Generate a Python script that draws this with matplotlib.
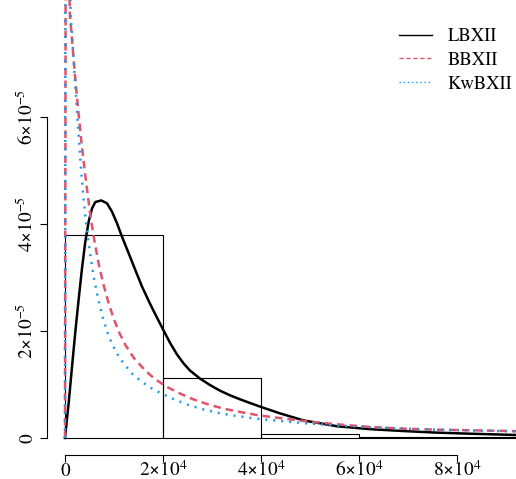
import numpy as np
import matplotlib
matplotlib.use("Agg")
import matplotlib.pyplot as plt
from matplotlib.lines import Line2D

plt.rcParams['font.family'] = ['TeX Gyre Termes', 'FreeSerif', 'DejaVu Serif']
plt.rcParams['mathtext.fontset'] = 'custom'
plt.rcParams['mathtext.rm'] = 'TeX Gyre Termes'
plt.rcParams['mathtext.it'] = 'TeX Gyre Termes:italic'
plt.rcParams['font.size'] = 14

# histogram (density scale)
bin_edges = [0, 20000, 40000, 60000, 80000, 100000]
bin_density = [3.79e-5, 1.12e-5, 6.9e-7, 2.4e-7, 1.0e-7]

# fitted densities, values (y in units of 1e-5)
lb_x = [0, 755, 1429, 2102, 2796, 3469, 4143, 4837, 5510, 6184, 7408,
        8571, 9592, 10612, 11633, 13000, 14347, 15714, 17347, 18714, 20061,
        21429, 22796, 24143, 25510, 27551, 29592, 31633, 33673, 35714,
        37755, 40000, 43878, 48633, 55449, 62245, 69041, 75857, 82653, 92040]
lb_y = [0, 0.66, 1.33, 1.98, 2.60, 3.17, 3.67, 4.05, 4.29, 4.41, 4.44,
        4.386, 4.23, 4.013, 3.762, 3.45, 3.14, 2.83, 2.51, 2.26, 2.02,
        1.78, 1.57, 1.40, 1.26, 1.11, 0.99, 0.884, 0.798, 0.723,
        0.654, 0.58, 0.46, 0.33, 0.22, 0.165, 0.13, 0.10, 0.08, 0.056]

bb_x = [0, 120, 300, 980, 1327, 1673, 2020, 2388, 2776, 3184, 3633, 4102,
        4612, 5224, 5980, 6878, 7898, 8900, 9900, 10959, 12306, 14020,
        16388, 18367, 21082, 23816, 26531, 29592, 32653, 35714, 39122,
        42510, 48633, 55449, 62245, 69041, 75857, 82653, 92040]
bb_y = [0, 8.0, 12.0, 7.925, 7.551, 7.177, 6.803, 6.429, 6.056, 5.682,
        5.308, 4.934, 4.560, 4.130, 3.701, 3.25, 2.85, 2.52, 2.24, 1.99,
        1.74, 1.50, 1.26, 1.10, 0.94, 0.817, 0.710, 0.617, 0.542, 0.486,
        0.430, 0.387, 0.318, 0.256, 0.206, 0.174, 0.155, 0.144, 0.128]

kw_x = [0, 80, 250, 1163, 1449, 1714, 1980, 2245, 2510, 2796, 3082, 3388,
        3735, 4143, 4633, 5184, 5837, 6633, 7612, 8878, 10408, 12041, 13673,
        15714, 18020, 19735, 22102, 25163, 28224, 31286, 34347, 37755,
        40816, 43878, 48633, 55449, 62245, 69041, 75857, 82653, 92040]
kw_y = [0, 8.5, 13.0, 7.887, 7.513, 7.139, 6.766, 6.392, 6.018, 5.644,
        5.271, 4.897, 4.523, 4.149, 3.775, 3.402, 3.028, 2.654, 2.280,
        1.906, 1.607, 1.383, 1.205, 1.048, 0.906, 0.831, 0.729, 0.617,
        0.534, 0.469, 0.421, 0.376, 0.344, 0.318, 0.279, 0.234, 0.202,
        0.176, 0.155, 0.140, 0.123]

series_names = ['LBXII', 'BBXII', 'KwBXII']
x_ticks = [0, 20000, 40000, 60000, 80000]
x_labels = ['0', r'$2{\times}10^{4}$', r'$4{\times}10^{4}$',
            r'$6{\times}10^{4}$', r'$8{\times}10^{4}$']
y_ticks = [0, 2e-5, 4e-5, 6e-5]
y_labels = ['0', r'$2{\times}10^{-5}$', r'$4{\times}10^{-5}$',
            r'$6{\times}10^{-5}$']

red = '#DF536B'
blue = '#2297E6'
unit = 1e-5

fig = plt.figure(figsize=(5.16, 4.79), dpi=100)
ax = fig.add_axes([46.7 / 516, 1 - 455 / 479, (516 - 46.7) / 516, 455 / 479])

widths = np.diff(bin_edges)
ax.bar(bin_edges[:-1], bin_density, width=widths, align='edge',
       fill=False, edgecolor='black', linewidth=0.8)

ax.plot(lb_x, np.array(lb_y) * unit, color='black', lw=1.8)
ax.plot(bb_x, np.array(bb_y) * unit, color=red, lw=1.8, dashes=(3, 2))
ax.plot(kw_x, np.array(kw_y) * unit, color=blue, lw=1.8, dashes=(0.8, 2.4))

ax.set_xlim(-3735, 92040)
ax.set_ylim(-3.18e-6, 8.186e-5)

for s in ['top', 'right']:
    ax.spines[s].set_visible(False)
ax.spines['left'].set_bounds(0, 6e-5)
ax.spines['bottom'].set_bounds(0, 80000)
for s in ['left', 'bottom']:
    ax.spines[s].set_linewidth(0.8)

ax.set_xticks(x_ticks)
ax.set_xticklabels(x_labels, va='baseline')
ax.set_yticks(y_ticks)
ax.set_yticklabels(y_labels, rotation=90, rotation_mode='anchor',
                   ha='center', va='baseline')
ax.tick_params(axis='x', length=5, width=0.8, pad=10)
ax.tick_params(axis='y', length=5, width=0.8, pad=5)

handles = [Line2D([], [], color='black', lw=1),
           Line2D([], [], color=red, lw=1, dashes=(3, 2)),
           Line2D([], [], color=blue, lw=1, dashes=(1, 2))]
ax.legend(handles, series_names, loc='upper left',
          bbox_to_anchor=(399 / 516, 1 - 28 / 479),
          bbox_transform=fig.transFigure, frameon=False, borderpad=0,
          borderaxespad=0, handlelength=1.75, handletextpad=0.85,
          labelspacing=0.35, fontsize=13.4)

fig.savefig('out.png', dpi=100)
